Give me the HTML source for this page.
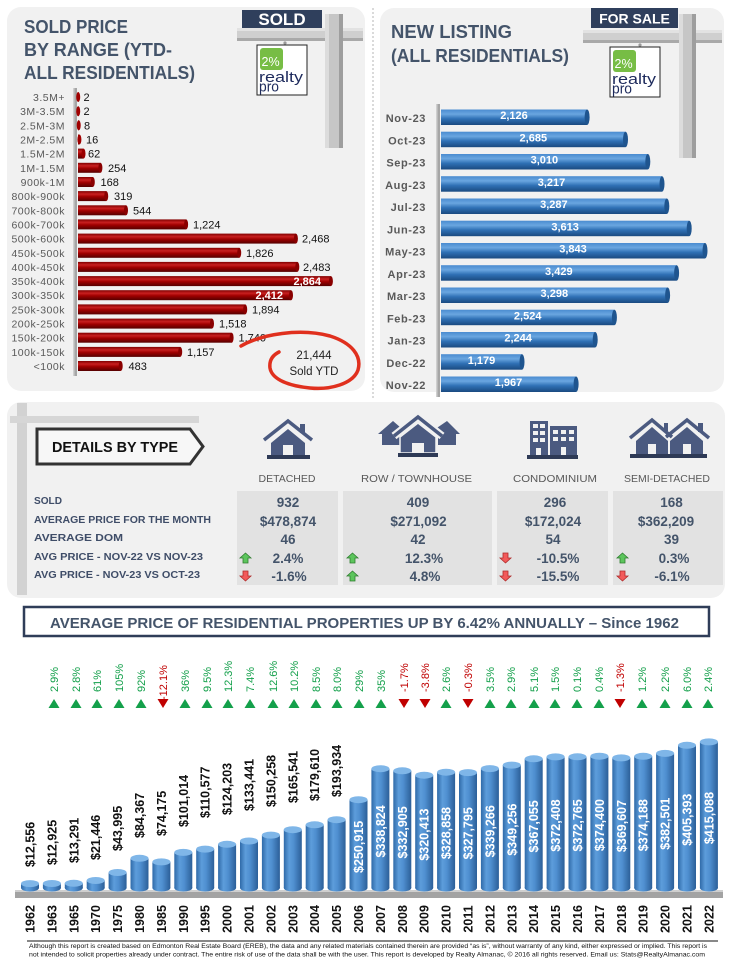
<!DOCTYPE html>
<html><head><meta charset="utf-8"><style>
html,body{margin:0;padding:0;background:#fff;}
svg{display:block;}
text{font-family:"Liberation Sans",Arial,sans-serif;}
.cat{font-size:10.5px;fill:#595959;text-anchor:end;letter-spacing:0.5px}
.rv{font-size:11px;fill:#111}
.rw{font-size:11px;fill:#fff;font-weight:bold;text-anchor:end}
.mo{font-size:11px;fill:#595959;font-weight:bold;text-anchor:end;letter-spacing:0.6px}
.bv{font-size:11px;fill:#fff;font-weight:bold;text-anchor:middle}
.rl{font-size:10.5px;fill:#3f4d68;font-weight:bold}
.ch{font-size:10.5px;fill:#595959;text-anchor:middle}
.dv{font-size:13.5px;fill:#44546a;font-weight:bold;text-anchor:middle}
.yl{font-size:12.5px;font-weight:bold;fill:#111;text-anchor:middle}
.vb{font-size:12.5px;font-weight:bold;fill:#111}
.vw{font-size:12.5px;font-weight:bold;fill:#fff;text-anchor:middle}
.pg{font-size:11px;fill:#14a04b}
.pr{font-size:11px;fill:#c00000}
.ic{fill:#4b5a80}
.icb{fill:#2e3a56}
.hole{fill:#f1f1f1}
</style></head><body>
<svg width="737" height="960" viewBox="0 0 737 960" xmlns="http://www.w3.org/2000/svg">
<defs>
<linearGradient id="rg" x1="0" y1="0" x2="0" y2="1">
<stop offset="0" stop-color="#800000"/><stop offset="0.3" stop-color="#c82020"/><stop offset="0.55" stop-color="#a00000"/><stop offset="1" stop-color="#550000"/>
</linearGradient>
<linearGradient id="bg" x1="0" y1="0" x2="0" y2="1">
<stop offset="0" stop-color="#4a8bd0"/><stop offset="0.3" stop-color="#6aa6e0"/><stop offset="0.6" stop-color="#2f70b5"/><stop offset="1" stop-color="#1a4a80"/>
</linearGradient>
<linearGradient id="cy" x1="0" y1="0" x2="1" y2="0">
<stop offset="0" stop-color="#2f6aa8"/><stop offset="0.3" stop-color="#5d9ddb"/><stop offset="0.55" stop-color="#4f8fd0"/><stop offset="1" stop-color="#2c5f98"/>
</linearGradient>
<g id="logo">
<rect x="0" y="0" width="50" height="50" fill="#fff" stroke="#222" stroke-width="1"/>
<rect x="3" y="3" width="23" height="22" rx="3" fill="#77bd45"/>
<text x="4.5" y="21" font-size="12.5" fill="#fff">2%</text>
<text x="2" y="37" font-size="15" fill="#1d2a5c" textLength="44" lengthAdjust="spacingAndGlyphs">realty</text>
<text x="2" y="46.5" font-size="15" fill="#1d2a5c" textLength="20" lengthAdjust="spacingAndGlyphs">pro</text>
</g>
</defs>

<!-- panels -->
<rect x="7" y="7" width="358" height="384" rx="14" fill="#f1f1f1"/>
<rect x="380" y="8" width="344" height="384" rx="14" fill="#f1f1f1"/>
<line x1="373" y1="8" x2="373" y2="398" stroke="#b5b5b5" stroke-dasharray="2,2"/>
<rect x="7" y="402" width="718" height="196" rx="14" fill="#f1f1f1"/>

<!-- LEFT sign -->
<rect x="237" y="28" width="126" height="13" fill="#cfcfcf"/>
<rect x="237" y="28" width="126" height="3" fill="#e2e2e2"/>
<rect x="237" y="38" width="126" height="3" fill="#a9a9a9"/>
<rect x="325" y="14" width="18" height="134" fill="#c6c6c6"/>
<rect x="325" y="14" width="4" height="134" fill="#dcdcdc"/>
<rect x="339" y="14" width="4" height="134" fill="#9e9e9e"/>
<rect x="242" y="10" width="80" height="18" fill="#2f3f5c"/>
<text x="282" y="25" font-size="17" font-weight="bold" fill="#fff" text-anchor="middle">SOLD</text>
<circle cx="285" cy="43" r="1.6" fill="#999"/>
<use href="#logo" x="257" y="45"/>

<text x="24" y="33" font-size="18" font-weight="bold" fill="#44546a" textLength="104" lengthAdjust="spacingAndGlyphs">SOLD PRICE</text>
<text x="24" y="56" font-size="18" font-weight="bold" fill="#44546a" textLength="148" lengthAdjust="spacingAndGlyphs">BY RANGE (YTD-</text>
<text x="24" y="79" font-size="18" font-weight="bold" fill="#44546a" textLength="171" lengthAdjust="spacingAndGlyphs">ALL RESIDENTIALS)</text>

<!-- left axis -->
<rect x="73" y="88" width="4" height="288" fill="#a6a6a6"/>
<rect x="73" y="88" width="1.5" height="288" fill="#cfcfcf"/>

<!-- red bars -->
<g>
<rect x="78" y="92" width="0.2" height="10" fill="url(#rg)"/><ellipse cx="78.2" cy="97" rx="2" ry="5" fill="#a00000"/>
<rect x="78" y="106.2" width="0.2" height="10" fill="url(#rg)"/><ellipse cx="78.2" cy="111.2" rx="2" ry="5" fill="#a00000"/>
<rect x="78" y="120.3" width="0.7" height="10" fill="url(#rg)"/><ellipse cx="78.7" cy="125.3" rx="2" ry="5" fill="#a00000"/>
<rect x="78" y="134.5" width="1.4" height="10" fill="url(#rg)"/><ellipse cx="79.4" cy="139.5" rx="2" ry="5" fill="#a00000"/>
<rect x="78" y="148.6" width="5.5" height="10" fill="url(#rg)"/><ellipse cx="83.5" cy="153.6" rx="2" ry="5" fill="#9a0000"/>
<rect x="78" y="162.8" width="22.4" height="10" fill="url(#rg)"/><ellipse cx="100.4" cy="167.8" rx="2" ry="5" fill="#8a0000"/>
<rect x="78" y="177" width="14.8" height="10" fill="url(#rg)"/><ellipse cx="92.8" cy="182" rx="2" ry="5" fill="#8a0000"/>
<rect x="78" y="191.1" width="28.2" height="10" fill="url(#rg)"/><ellipse cx="106.2" cy="196.1" rx="2" ry="5" fill="#8a0000"/>
<rect x="78" y="205.3" width="48" height="10" fill="url(#rg)"/><ellipse cx="126" cy="210.3" rx="2" ry="5" fill="#8a0000"/>
<rect x="78" y="219.4" width="108.1" height="10" fill="url(#rg)"/><ellipse cx="186.1" cy="224.4" rx="2" ry="5" fill="#8a0000"/>
<rect x="78" y="233.6" width="217.9" height="10" fill="url(#rg)"/><ellipse cx="295.9" cy="238.6" rx="2" ry="5" fill="#8a0000"/>
<rect x="78" y="247.8" width="161.2" height="10" fill="url(#rg)"/><ellipse cx="239.2" cy="252.8" rx="2" ry="5" fill="#8a0000"/>
<rect x="78" y="261.9" width="219.3" height="10" fill="url(#rg)"/><ellipse cx="297.3" cy="266.9" rx="2" ry="5" fill="#8a0000"/>
<rect x="78" y="276.1" width="252.9" height="10" fill="url(#rg)"/><ellipse cx="330.9" cy="281.1" rx="2" ry="5" fill="#8a0000"/>
<rect x="78" y="290.2" width="213" height="10" fill="url(#rg)"/><ellipse cx="291" cy="295.2" rx="2" ry="5" fill="#8a0000"/>
<rect x="78" y="304.4" width="167.2" height="10" fill="url(#rg)"/><ellipse cx="245.2" cy="309.4" rx="2" ry="5" fill="#8a0000"/>
<rect x="78" y="318.6" width="134" height="10" fill="url(#rg)"/><ellipse cx="212" cy="323.6" rx="2" ry="5" fill="#8a0000"/>
<rect x="78" y="332.7" width="153.6" height="10" fill="url(#rg)"/><ellipse cx="231.6" cy="337.7" rx="2" ry="5" fill="#8a0000"/>
<rect x="78" y="346.9" width="102.2" height="10" fill="url(#rg)"/><ellipse cx="180.2" cy="351.9" rx="2" ry="5" fill="#8a0000"/>
<rect x="78" y="361" width="42.7" height="10" fill="url(#rg)"/><ellipse cx="120.7" cy="366" rx="2" ry="5" fill="#8a0000"/>
</g>
<g>
<text class="cat" x="65" y="101">3.5M+</text>
<text class="cat" x="65" y="115.2">3M-3.5M</text>
<text class="cat" x="65" y="129.3">2.5M-3M</text>
<text class="cat" x="65" y="143.5">2M-2.5M</text>
<text class="cat" x="65" y="157.6">1.5M-2M</text>
<text class="cat" x="65" y="171.8">1M-1.5M</text>
<text class="cat" x="65" y="186">900k-1M</text>
<text class="cat" x="65" y="200.1">800k-900k</text>
<text class="cat" x="65" y="214.3">700k-800k</text>
<text class="cat" x="65" y="228.4">600k-700k</text>
<text class="cat" x="65" y="242.6">500k-600k</text>
<text class="cat" x="65" y="256.8">450k-500k</text>
<text class="cat" x="65" y="270.9">400k-450k</text>
<text class="cat" x="65" y="285.1">350k-400k</text>
<text class="cat" x="65" y="299.2">300k-350k</text>
<text class="cat" x="65" y="313.4">250k-300k</text>
<text class="cat" x="65" y="327.6">200k-250k</text>
<text class="cat" x="65" y="341.7">150k-200k</text>
<text class="cat" x="65" y="355.9">100k-150k</text>
<text class="cat" x="65" y="370">&lt;100k</text>
</g>
<g>
<text class="rv" x="83.5" y="101">2</text>
<text class="rv" x="83.5" y="115.2">2</text>
<text class="rv" x="84" y="129.3">8</text>
<text class="rv" x="86" y="143.5">16</text>
<text class="rv" x="88" y="157.6">62</text>
<text class="rv" x="108" y="171.8">254</text>
<text class="rv" x="100.5" y="186">168</text>
<text class="rv" x="114" y="200.1">319</text>
<text class="rv" x="133" y="214.3">544</text>
<text class="rv" x="193" y="228.4">1,224</text>
<text class="rv" x="302" y="242.6">2,468</text>
<text class="rv" x="246" y="256.8">1,826</text>
<text class="rv" x="303" y="270.9">2,483</text>
<text class="rw" x="321" y="285.1">2,864</text>
<text class="rw" x="283" y="299.2">2,412</text>
<text class="rv" x="252" y="313.4">1,894</text>
<text class="rv" x="219" y="327.6">1,518</text>
<text class="rv" x="238.5" y="341.7">1,740</text>
<text class="rv" x="187" y="355.9">1,157</text>
<text class="rv" x="128.5" y="370">483</text>
</g>
<path d="M241,346 C262,334 300,328 330,336 C352,343 362,356 358,370 C353,384 330,390 310,388 C290,386 272,380 270,368 C269,360 273,355 279,352" fill="none" stroke="#e0301e" stroke-width="3.5" stroke-linecap="round"/>
<text x="314" y="359" font-size="11.5" fill="#222" text-anchor="middle">21,444</text>
<text x="314" y="375" font-size="11.5" fill="#222" text-anchor="middle">Sold YTD</text>

<!-- RIGHT sign -->
<rect x="583" y="30" width="139" height="13" fill="#cfcfcf"/>
<rect x="583" y="30" width="139" height="3" fill="#e2e2e2"/>
<rect x="583" y="40" width="139" height="3" fill="#a9a9a9"/>
<rect x="679" y="14" width="17" height="144" fill="#c6c6c6"/>
<rect x="679" y="14" width="4" height="144" fill="#dcdcdc"/>
<rect x="692" y="14" width="4" height="144" fill="#9e9e9e"/>
<rect x="591" y="8" width="87" height="20" fill="#2f3f5c"/>
<text x="634.5" y="23.5" font-size="14" font-weight="bold" fill="#fff" text-anchor="middle">FOR SALE</text>
<circle cx="640" cy="45" r="1.6" fill="#999"/>
<use href="#logo" x="610" y="47"/>

<text x="391" y="38" font-size="18" font-weight="bold" fill="#44546a" textLength="121" lengthAdjust="spacingAndGlyphs">NEW LISTING</text>
<text x="391" y="62" font-size="18" font-weight="bold" fill="#44546a" textLength="178" lengthAdjust="spacingAndGlyphs">(ALL RESIDENTIALS)</text>

<rect x="436" y="104" width="4" height="293" fill="#a6a6a6"/>
<rect x="436" y="104" width="1.5" height="293" fill="#cfcfcf"/>
<g>
<rect x="441" y="109.5" width="146.1" height="15.5" fill="url(#bg)"/><ellipse cx="587.1" cy="117.2" rx="2.5" ry="7.7" fill="#1f558f"/>
<rect x="441" y="131.7" width="184.5" height="15.5" fill="url(#bg)"/><ellipse cx="625.5" cy="139.45" rx="2.5" ry="7.7" fill="#1f558f"/>
<rect x="441" y="154" width="206.8" height="15.5" fill="url(#bg)"/><ellipse cx="647.8" cy="161.7" rx="2.5" ry="7.7" fill="#1f558f"/>
<rect x="441" y="176.2" width="221" height="15.5" fill="url(#bg)"/><ellipse cx="662" cy="183.95" rx="2.5" ry="7.7" fill="#1f558f"/>
<rect x="441" y="198.5" width="225.8" height="15.5" fill="url(#bg)"/><ellipse cx="666.8" cy="206.2" rx="2.5" ry="7.7" fill="#1f558f"/>
<rect x="441" y="220.7" width="248.2" height="15.5" fill="url(#bg)"/><ellipse cx="689.2" cy="228.45" rx="2.5" ry="7.7" fill="#1f558f"/>
<rect x="441" y="243" width="264" height="15.5" fill="url(#bg)"/><ellipse cx="705" cy="250.7" rx="2.5" ry="7.7" fill="#1f558f"/>
<rect x="441" y="265.2" width="235.6" height="15.5" fill="url(#bg)"/><ellipse cx="676.6" cy="272.95" rx="2.5" ry="7.7" fill="#1f558f"/>
<rect x="441" y="287.5" width="226.6" height="15.5" fill="url(#bg)"/><ellipse cx="667.6" cy="295.2" rx="2.5" ry="7.7" fill="#1f558f"/>
<rect x="441" y="309.7" width="173.4" height="15.5" fill="url(#bg)"/><ellipse cx="614.4" cy="317.45" rx="2.5" ry="7.7" fill="#1f558f"/>
<rect x="441" y="332" width="154.2" height="15.5" fill="url(#bg)"/><ellipse cx="595.2" cy="339.7" rx="2.5" ry="7.7" fill="#1f558f"/>
<rect x="441" y="354.2" width="81" height="15.5" fill="url(#bg)"/><ellipse cx="522" cy="361.95" rx="2.5" ry="7.7" fill="#1f558f"/>
<rect x="441" y="376.5" width="135.1" height="15.5" fill="url(#bg)"/><ellipse cx="576.1" cy="384.2" rx="2.5" ry="7.7" fill="#1f558f"/>
</g>
<g>
<text class="mo" x="426" y="122">Nov-23</text>
<text class="mo" x="426" y="144.3">Oct-23</text>
<text class="mo" x="426" y="166.5">Sep-23</text>
<text class="mo" x="426" y="188.8">Aug-23</text>
<text class="mo" x="426" y="211">Jul-23</text>
<text class="mo" x="426" y="233.3">Jun-23</text>
<text class="mo" x="426" y="255.5">May-23</text>
<text class="mo" x="426" y="277.8">Apr-23</text>
<text class="mo" x="426" y="300">Mar-23</text>
<text class="mo" x="426" y="322.3">Feb-23</text>
<text class="mo" x="426" y="344.5">Jan-23</text>
<text class="mo" x="426" y="366.8">Dec-22</text>
<text class="mo" x="426" y="389">Nov-22</text>
</g>
<g>
<text class="bv" x="514" y="119">2,126</text>
<text class="bv" x="533.3" y="141.3">2,685</text>
<text class="bv" x="544.4" y="163.5">3,010</text>
<text class="bv" x="551.5" y="185.8">3,217</text>
<text class="bv" x="553.9" y="208">3,287</text>
<text class="bv" x="565.1" y="230.3">3,613</text>
<text class="bv" x="573" y="252.5">3,843</text>
<text class="bv" x="558.8" y="274.8">3,429</text>
<text class="bv" x="554.3" y="297">3,298</text>
<text class="bv" x="527.7" y="319.3">2,524</text>
<text class="bv" x="518.1" y="341.5">2,244</text>
<text class="bv" x="481.5" y="363.8">1,179</text>
<text class="bv" x="508.5" y="386">1,967</text>
</g>

<!-- DETAILS -->
<rect x="17" y="403" width="10" height="192" fill="#d2d2d2"/>
<rect x="10" y="416" width="189" height="7" fill="#d6d6d6"/>
<polygon points="37,429 190,429 203,446.5 190,464 37,464" fill="#f7f7f7" stroke="#333" stroke-width="3"/>
<text x="52" y="452" font-size="14.5" font-weight="bold" fill="#111" textLength="126" lengthAdjust="spacingAndGlyphs">DETAILS BY TYPE</text>

<!-- icons -->
<g>
<polyline points="264,440 288,421 312,440" fill="none" stroke="#4b5a80" stroke-width="3.5"/>
<rect class="ic" x="300" y="424" width="5" height="9"/>
<polygon class="ic" points="271,443 288,429 305,443 305,455 271,455"/>
<rect class="hole" x="283" y="445" width="10" height="10"/>
<rect class="icb" x="267" y="455" width="43" height="4"/>
</g>
<g>
<polygon class="ic" points="378,434 393,421 408,434 404,434 404,445 382,445 382,434"/>
<polygon class="ic" points="428,434 447,421 460,434 456,434 456,445 438,445 438,434"/>
<polyline points="394,436 418,417 442,436" fill="none" stroke="#f1f1f1" stroke-width="8"/>
<polyline points="394,436 418,417 442,436" fill="none" stroke="#4b5a80" stroke-width="3.5"/>
<polygon class="ic" points="400,437 418,423 436,437 436,453 400,453" stroke="#f1f1f1" stroke-width="1.5"/>
<rect class="hole" x="412" y="443" width="12" height="10"/>
<rect class="icb" x="398" y="453" width="40" height="4"/>
</g>
<g>
<rect class="ic" x="530" y="421" width="18" height="34"/>
<rect class="hole" x="533" y="424" width="5" height="4"/><rect class="hole" x="540" y="424" width="5" height="4"/>
<rect class="hole" x="533" y="431" width="5" height="4"/><rect class="hole" x="540" y="431" width="5" height="4"/>
<rect class="hole" x="533" y="438" width="5" height="4"/><rect class="hole" x="540" y="438" width="5" height="4"/>
<rect class="hole" x="536" y="448" width="5" height="7"/>
<rect class="ic" x="550" y="426" width="27" height="29"/>
<rect class="hole" x="553" y="430" width="5" height="4"/><rect class="hole" x="561" y="430" width="5" height="4"/><rect class="hole" x="569" y="430" width="5" height="4"/>
<rect class="hole" x="553" y="437" width="5" height="4"/><rect class="hole" x="561" y="437" width="5" height="4"/><rect class="hole" x="569" y="437" width="5" height="4"/>
<rect class="hole" x="561" y="447" width="5" height="8"/>
<rect class="icb" x="527" y="455" width="51" height="4"/>
</g>
<g>
<polyline points="630,438 652,420 672,437" fill="none" stroke="#4b5a80" stroke-width="3.5"/>
<polyline points="666,437 687,420 709,438" fill="none" stroke="#4b5a80" stroke-width="3.5"/>
<rect class="ic" x="664" y="423" width="4" height="8"/>
<rect class="ic" x="698" y="423" width="5" height="9"/>
<polygon class="ic" points="636,441 652,427 668,441 668,454 636,454"/>
<polygon class="ic" points="670,441 687,427 703,441 703,454 670,454"/>
<rect class="hole" x="648" y="444" width="8" height="10"/>
<rect class="hole" x="683" y="444" width="8" height="10"/>
<rect class="icb" x="630" y="454" width="77" height="4"/>
</g>

<text class="ch" x="287" y="482">DETACHED</text>
<text class="ch" x="416.5" y="482" textLength="111" lengthAdjust="spacingAndGlyphs">ROW / TOWNHOUSE</text>
<text class="ch" x="555" y="482" textLength="84" lengthAdjust="spacingAndGlyphs">CONDOMINIUM</text>
<text class="ch" x="667" y="482" textLength="86" lengthAdjust="spacingAndGlyphs">SEMI-DETACHED</text>

<rect x="237" y="491" width="101" height="94" fill="#e2e2e2"/>
<rect x="343" y="491" width="149" height="94" fill="#e2e2e2"/>
<rect x="497" y="491" width="111" height="94" fill="#e2e2e2"/>
<rect x="613" y="491" width="110" height="94" fill="#e2e2e2"/>

<text class="rl" x="34" y="504" textLength="28" lengthAdjust="spacingAndGlyphs">SOLD</text>
<text class="rl" x="34" y="523" textLength="177" lengthAdjust="spacingAndGlyphs">AVERAGE PRICE FOR THE MONTH</text>
<text class="rl" x="34" y="541" textLength="89" lengthAdjust="spacingAndGlyphs">AVERAGE DOM</text>
<text class="rl" x="34" y="560" textLength="169" lengthAdjust="spacingAndGlyphs">AVG PRICE - NOV-22 VS NOV-23</text>
<text class="rl" x="34" y="578" textLength="166" lengthAdjust="spacingAndGlyphs">AVG PRICE - NOV-23 VS OCT-23</text>

<text class="dv" x="288" y="507">932</text>
<text class="dv" x="288" y="526">$478,874</text>
<text class="dv" x="288" y="544">46</text>
<text class="dv" x="288" y="563">2.4%</text>
<text class="dv" x="289" y="581">-1.6%</text>

<text class="dv" x="418" y="507">409</text>
<text class="dv" x="418.5" y="526">$271,092</text>
<text class="dv" x="418" y="544">42</text>
<text class="dv" x="424" y="563">12.3%</text>
<text class="dv" x="425" y="581">4.8%</text>

<text class="dv" x="555" y="507">296</text>
<text class="dv" x="553" y="526">$172,024</text>
<text class="dv" x="553" y="544">54</text>
<text class="dv" x="558" y="563">-10.5%</text>
<text class="dv" x="558" y="581">-15.5%</text>

<text class="dv" x="671.5" y="507">168</text>
<text class="dv" x="666" y="526">$362,209</text>
<text class="dv" x="671.5" y="544">39</text>
<text class="dv" x="674" y="563">0.3%</text>
<text class="dv" x="672" y="581">-6.1%</text>

<!-- arrows -->
<g stroke-width="0.8">
<polygon points="245.5,553 251,558 248,558 248,563 243,563 243,558 240,558" fill="#5cc55c" stroke="#2f7d2f"/>
<polygon points="245.5,581 251,576 248,576 248,571 243,571 243,576 240,576" fill="#f25a5a" stroke="#b02a2a"/>
<polygon points="352.5,553 358,558 355,558 355,563 350,563 350,558 347,558" fill="#5cc55c" stroke="#2f7d2f"/>
<polygon points="352.5,571 358,576 355,576 355,581 350,581 350,576 347,576" fill="#5cc55c" stroke="#2f7d2f"/>
<polygon points="505.5,563 511,558 508,558 508,553 503,553 503,558 500,558" fill="#f25a5a" stroke="#b02a2a"/>
<polygon points="505.5,581 511,576 508,576 508,571 503,571 503,576 500,576" fill="#f25a5a" stroke="#b02a2a"/>
<polygon points="622.5,553 628,558 625,558 625,563 620,563 620,558 617,558" fill="#5cc55c" stroke="#2f7d2f"/>
<polygon points="622.5,581 628,576 625,576 625,571 620,571 620,576 617,576" fill="#f25a5a" stroke="#b02a2a"/>
</g>

<!-- BOTTOM title -->
<rect x="24" y="607" width="685" height="29" fill="#fff" stroke="#2f3d58" stroke-width="2.5"/>
<text x="50" y="628" font-size="15" font-weight="bold" fill="#44546a" textLength="629" lengthAdjust="spacingAndGlyphs">AVERAGE PRICE OF RESIDENTIAL PROPERTIES UP BY 6.42% ANNUALLY – Since 1962</text>

<!-- percent labels -->
<g>
<text class="pg" transform="translate(58,692) rotate(-90)">2.9%</text>
<text class="pg" transform="translate(80,692) rotate(-90)">2.8%</text>
<text class="pg" transform="translate(101,692) rotate(-90)">61%</text>
<text class="pg" transform="translate(123,692) rotate(-90)">105%</text>
<text class="pg" transform="translate(145,692) rotate(-90)">92%</text>
<text class="pr" transform="translate(167,700) rotate(-90)">-12.1%</text>
<text class="pg" transform="translate(189,692) rotate(-90)">36%</text>
<text class="pg" transform="translate(211,692) rotate(-90)">9.5%</text>
<text class="pg" transform="translate(232,692) rotate(-90)">12.3%</text>
<text class="pg" transform="translate(254,692) rotate(-90)">7.4%</text>
<text class="pg" transform="translate(277,692) rotate(-90)">12.6%</text>
<text class="pg" transform="translate(298,692) rotate(-90)">10.2%</text>
<text class="pg" transform="translate(320,692) rotate(-90)">8.5%</text>
<text class="pg" transform="translate(341,692) rotate(-90)">8.0%</text>
<text class="pg" transform="translate(363,692) rotate(-90)">29%</text>
<text class="pg" transform="translate(385,692) rotate(-90)">35%</text>
<text class="pr" transform="translate(408,692) rotate(-90)">-1.7%</text>
<text class="pr" transform="translate(429,692) rotate(-90)">-3.8%</text>
<text class="pg" transform="translate(450,692) rotate(-90)">2.6%</text>
<text class="pr" transform="translate(472,692) rotate(-90)">-0.3%</text>
<text class="pg" transform="translate(494,692) rotate(-90)">3.5%</text>
<text class="pg" transform="translate(515,692) rotate(-90)">2.9%</text>
<text class="pg" transform="translate(538,692) rotate(-90)">5.1%</text>
<text class="pg" transform="translate(559,692) rotate(-90)">1.5%</text>
<text class="pg" transform="translate(581,692) rotate(-90)">0.1%</text>
<text class="pg" transform="translate(603,692) rotate(-90)">0.4%</text>
<text class="pr" transform="translate(624,692) rotate(-90)">-1.3%</text>
<text class="pg" transform="translate(646,692) rotate(-90)">1.2%</text>
<text class="pg" transform="translate(669,692) rotate(-90)">2.2%</text>
<text class="pg" transform="translate(691,692) rotate(-90)">6.0%</text>
<text class="pg" transform="translate(712,692) rotate(-90)">2.4%</text>
</g>
<g>
<polygon points="48.5,708 59.5,708 54,699" fill="#14a04b"/>
<polygon points="70.5,708 81.5,708 76,699" fill="#14a04b"/>
<polygon points="91.5,708 102.5,708 97,699" fill="#14a04b"/>
<polygon points="113.5,708 124.5,708 119,699" fill="#14a04b"/>
<polygon points="135.5,708 146.5,708 141,699" fill="#14a04b"/>
<polygon points="157.5,699 168.5,699 163,708" fill="#c00000"/>
<polygon points="179.5,708 190.5,708 185,699" fill="#14a04b"/>
<polygon points="201.5,708 212.5,708 207,699" fill="#14a04b"/>
<polygon points="222.5,708 233.5,708 228,699" fill="#14a04b"/>
<polygon points="244.5,708 255.5,708 250,699" fill="#14a04b"/>
<polygon points="267.5,708 278.5,708 273,699" fill="#14a04b"/>
<polygon points="288.5,708 299.5,708 294,699" fill="#14a04b"/>
<polygon points="310.5,708 321.5,708 316,699" fill="#14a04b"/>
<polygon points="331.5,708 342.5,708 337,699" fill="#14a04b"/>
<polygon points="353.5,708 364.5,708 359,699" fill="#14a04b"/>
<polygon points="375.5,708 386.5,708 381,699" fill="#14a04b"/>
<polygon points="398.5,699 409.5,699 404,708" fill="#c00000"/>
<polygon points="419.5,699 430.5,699 425,708" fill="#c00000"/>
<polygon points="440.5,708 451.5,708 446,699" fill="#14a04b"/>
<polygon points="462.5,699 473.5,699 468,708" fill="#c00000"/>
<polygon points="484.5,708 495.5,708 490,699" fill="#14a04b"/>
<polygon points="505.5,708 516.5,708 511,699" fill="#14a04b"/>
<polygon points="528.5,708 539.5,708 534,699" fill="#14a04b"/>
<polygon points="549.5,708 560.5,708 555,699" fill="#14a04b"/>
<polygon points="571.5,708 582.5,708 577,699" fill="#14a04b"/>
<polygon points="593.5,708 604.5,708 599,699" fill="#14a04b"/>
<polygon points="614.5,699 625.5,699 620,708" fill="#c00000"/>
<polygon points="636.5,708 647.5,708 642,699" fill="#14a04b"/>
<polygon points="659.5,708 670.5,708 665,699" fill="#14a04b"/>
<polygon points="681.5,708 692.5,708 687,699" fill="#14a04b"/>
<polygon points="702.5,708 713.5,708 708,699" fill="#14a04b"/>
</g>

<!-- floor -->
<rect x="15" y="891" width="708" height="7" fill="#a3a3a3"/>
<rect x="15" y="890" width="708" height="2" fill="#cfcfcf"/>

<!-- cylinders -->
<g>
<rect x="21" y="883.6" width="18" height="4.4" fill="url(#cy)"/><ellipse cx="30" cy="888" rx="9" ry="3.5" fill="url(#cy)"/><ellipse cx="30" cy="883.6" rx="9" ry="3.5" fill="#7fb6e8"/>
<rect x="42.9" y="883.5" width="18" height="4.5" fill="url(#cy)"/><ellipse cx="51.9" cy="888" rx="9" ry="3.5" fill="url(#cy)"/><ellipse cx="51.9" cy="883.5" rx="9" ry="3.5" fill="#7fb6e8"/>
<rect x="64.8" y="883.3" width="18" height="4.7" fill="url(#cy)"/><ellipse cx="73.8" cy="888" rx="9" ry="3.5" fill="url(#cy)"/><ellipse cx="73.8" cy="883.3" rx="9" ry="3.5" fill="#7fb6e8"/>
<rect x="86.7" y="880.5" width="18" height="7.5" fill="url(#cy)"/><ellipse cx="95.7" cy="888" rx="9" ry="3.5" fill="url(#cy)"/><ellipse cx="95.7" cy="880.5" rx="9" ry="3.5" fill="#7fb6e8"/>
<rect x="108.6" y="872.5" width="18" height="15.5" fill="url(#cy)"/><ellipse cx="117.6" cy="888" rx="9" ry="3.5" fill="url(#cy)"/><ellipse cx="117.6" cy="872.5" rx="9" ry="3.5" fill="#7fb6e8"/>
<rect x="130.5" y="858.3" width="18" height="29.7" fill="url(#cy)"/><ellipse cx="139.5" cy="888" rx="9" ry="3.5" fill="url(#cy)"/><ellipse cx="139.5" cy="858.3" rx="9" ry="3.5" fill="#7fb6e8"/>
<rect x="152.4" y="861.9" width="18" height="26.1" fill="url(#cy)"/><ellipse cx="161.4" cy="888" rx="9" ry="3.5" fill="url(#cy)"/><ellipse cx="161.4" cy="861.9" rx="9" ry="3.5" fill="#7fb6e8"/>
<rect x="174.3" y="852.4" width="18" height="35.6" fill="url(#cy)"/><ellipse cx="183.3" cy="888" rx="9" ry="3.5" fill="url(#cy)"/><ellipse cx="183.3" cy="852.4" rx="9" ry="3.5" fill="#7fb6e8"/>
<rect x="196.2" y="849.1" width="18" height="38.9" fill="url(#cy)"/><ellipse cx="205.2" cy="888" rx="9" ry="3.5" fill="url(#cy)"/><ellipse cx="205.2" cy="849.1" rx="9" ry="3.5" fill="#7fb6e8"/>
<rect x="218.1" y="844.3" width="18" height="43.7" fill="url(#cy)"/><ellipse cx="227.1" cy="888" rx="9" ry="3.5" fill="url(#cy)"/><ellipse cx="227.1" cy="844.3" rx="9" ry="3.5" fill="#7fb6e8"/>
<rect x="240" y="841" width="18" height="47" fill="url(#cy)"/><ellipse cx="249" cy="888" rx="9" ry="3.5" fill="url(#cy)"/><ellipse cx="249" cy="841" rx="9" ry="3.5" fill="#7fb6e8"/>
<rect x="261.9" y="835.1" width="18" height="52.9" fill="url(#cy)"/><ellipse cx="270.9" cy="888" rx="9" ry="3.5" fill="url(#cy)"/><ellipse cx="270.9" cy="835.1" rx="9" ry="3.5" fill="#7fb6e8"/>
<rect x="283.8" y="829.7" width="18" height="58.3" fill="url(#cy)"/><ellipse cx="292.8" cy="888" rx="9" ry="3.5" fill="url(#cy)"/><ellipse cx="292.8" cy="829.7" rx="9" ry="3.5" fill="#7fb6e8"/>
<rect x="305.7" y="824.8" width="18" height="63.2" fill="url(#cy)"/><ellipse cx="314.7" cy="888" rx="9" ry="3.5" fill="url(#cy)"/><ellipse cx="314.7" cy="824.8" rx="9" ry="3.5" fill="#7fb6e8"/>
<rect x="327.6" y="819.7" width="18" height="68.3" fill="url(#cy)"/><ellipse cx="336.6" cy="888" rx="9" ry="3.5" fill="url(#cy)"/><ellipse cx="336.6" cy="819.7" rx="9" ry="3.5" fill="#7fb6e8"/>
<rect x="349.5" y="799.7" width="18" height="88.3" fill="url(#cy)"/><ellipse cx="358.5" cy="888" rx="9" ry="3.5" fill="url(#cy)"/><ellipse cx="358.5" cy="799.7" rx="9" ry="3.5" fill="#7fb6e8"/>
<rect x="371.4" y="768.7" width="18" height="119.3" fill="url(#cy)"/><ellipse cx="380.4" cy="888" rx="9" ry="3.5" fill="url(#cy)"/><ellipse cx="380.4" cy="768.7" rx="9" ry="3.5" fill="#7fb6e8"/>
<rect x="393.3" y="770.8" width="18" height="117.2" fill="url(#cy)"/><ellipse cx="402.3" cy="888" rx="9" ry="3.5" fill="url(#cy)"/><ellipse cx="402.3" cy="770.8" rx="9" ry="3.5" fill="#7fb6e8"/>
<rect x="415.2" y="775.2" width="18" height="112.8" fill="url(#cy)"/><ellipse cx="424.2" cy="888" rx="9" ry="3.5" fill="url(#cy)"/><ellipse cx="424.2" cy="775.2" rx="9" ry="3.5" fill="#7fb6e8"/>
<rect x="437.1" y="772.2" width="18" height="115.8" fill="url(#cy)"/><ellipse cx="446.1" cy="888" rx="9" ry="3.5" fill="url(#cy)"/><ellipse cx="446.1" cy="772.2" rx="9" ry="3.5" fill="#7fb6e8"/>
<rect x="459" y="772.6" width="18" height="115.4" fill="url(#cy)"/><ellipse cx="468" cy="888" rx="9" ry="3.5" fill="url(#cy)"/><ellipse cx="468" cy="772.6" rx="9" ry="3.5" fill="#7fb6e8"/>
<rect x="480.9" y="768.6" width="18" height="119.4" fill="url(#cy)"/><ellipse cx="489.9" cy="888" rx="9" ry="3.5" fill="url(#cy)"/><ellipse cx="489.9" cy="768.6" rx="9" ry="3.5" fill="#7fb6e8"/>
<rect x="502.8" y="765.1" width="18" height="122.9" fill="url(#cy)"/><ellipse cx="511.8" cy="888" rx="9" ry="3.5" fill="url(#cy)"/><ellipse cx="511.8" cy="765.1" rx="9" ry="3.5" fill="#7fb6e8"/>
<rect x="524.7" y="758.8" width="18" height="129.2" fill="url(#cy)"/><ellipse cx="533.7" cy="888" rx="9" ry="3.5" fill="url(#cy)"/><ellipse cx="533.7" cy="758.8" rx="9" ry="3.5" fill="#7fb6e8"/>
<rect x="546.6" y="756.9" width="18" height="131.1" fill="url(#cy)"/><ellipse cx="555.6" cy="888" rx="9" ry="3.5" fill="url(#cy)"/><ellipse cx="555.6" cy="756.9" rx="9" ry="3.5" fill="#7fb6e8"/>
<rect x="568.5" y="756.8" width="18" height="131.2" fill="url(#cy)"/><ellipse cx="577.5" cy="888" rx="9" ry="3.5" fill="url(#cy)"/><ellipse cx="577.5" cy="756.8" rx="9" ry="3.5" fill="#7fb6e8"/>
<rect x="590.4" y="756.2" width="18" height="131.8" fill="url(#cy)"/><ellipse cx="599.4" cy="888" rx="9" ry="3.5" fill="url(#cy)"/><ellipse cx="599.4" cy="756.2" rx="9" ry="3.5" fill="#7fb6e8"/>
<rect x="612.3" y="757.9" width="18" height="130.1" fill="url(#cy)"/><ellipse cx="621.3" cy="888" rx="9" ry="3.5" fill="url(#cy)"/><ellipse cx="621.3" cy="757.9" rx="9" ry="3.5" fill="#7fb6e8"/>
<rect x="634.2" y="756.3" width="18" height="131.7" fill="url(#cy)"/><ellipse cx="643.2" cy="888" rx="9" ry="3.5" fill="url(#cy)"/><ellipse cx="643.2" cy="756.3" rx="9" ry="3.5" fill="#7fb6e8"/>
<rect x="656.1" y="753.4" width="18" height="134.6" fill="url(#cy)"/><ellipse cx="665.1" cy="888" rx="9" ry="3.5" fill="url(#cy)"/><ellipse cx="665.1" cy="753.4" rx="9" ry="3.5" fill="#7fb6e8"/>
<rect x="678" y="745.3" width="18" height="142.7" fill="url(#cy)"/><ellipse cx="687" cy="888" rx="9" ry="3.5" fill="url(#cy)"/><ellipse cx="687" cy="745.3" rx="9" ry="3.5" fill="#7fb6e8"/>
<rect x="699.9" y="741.9" width="18" height="146.1" fill="url(#cy)"/><ellipse cx="708.9" cy="888" rx="9" ry="3.5" fill="url(#cy)"/><ellipse cx="708.9" cy="741.9" rx="9" ry="3.5" fill="#7fb6e8"/>
</g>

<!-- value labels black -->
<g>
<text class="vb" transform="translate(34.5,867) rotate(-90)">$12,556</text>
<text class="vb" transform="translate(56.4,865) rotate(-90)">$12,925</text>
<text class="vb" transform="translate(78.3,863) rotate(-90)">$13,291</text>
<text class="vb" transform="translate(100.2,860) rotate(-90)">$21,446</text>
<text class="vb" transform="translate(122.1,851) rotate(-90)">$43,995</text>
<text class="vb" transform="translate(144,838) rotate(-90)">$84,367</text>
<text class="vb" transform="translate(165.9,836) rotate(-90)">$74,175</text>
<text class="vb" transform="translate(187.8,827) rotate(-90)">$101,014</text>
<text class="vb" transform="translate(209.7,818) rotate(-90)">$110,577</text>
<text class="vb" transform="translate(231.6,815) rotate(-90)">$124,203</text>
<text class="vb" transform="translate(253.5,811) rotate(-90)">$133,441</text>
<text class="vb" transform="translate(275.4,807) rotate(-90)">$150,258</text>
<text class="vb" transform="translate(297.3,803) rotate(-90)">$165,541</text>
<text class="vb" transform="translate(319.2,801) rotate(-90)">$179,610</text>
<text class="vb" transform="translate(341.1,797) rotate(-90)">$193,934</text>
</g>
<!-- value labels white -->
<g>
<text class="vw" transform="translate(363,846.9) rotate(-90)">$250,915</text>
<text class="vw" transform="translate(384.9,831.4) rotate(-90)">$338,824</text>
<text class="vw" transform="translate(406.8,832.4) rotate(-90)">$332,905</text>
<text class="vw" transform="translate(428.7,834.6) rotate(-90)">$320,413</text>
<text class="vw" transform="translate(450.6,833.1) rotate(-90)">$328,858</text>
<text class="vw" transform="translate(472.5,833.3) rotate(-90)">$327,795</text>
<text class="vw" transform="translate(494.4,831.3) rotate(-90)">$339,266</text>
<text class="vw" transform="translate(516.3,829.6) rotate(-90)">$349,256</text>
<text class="vw" transform="translate(538.2,826.4) rotate(-90)">$367,055</text>
<text class="vw" transform="translate(560.1,825.5) rotate(-90)">$372,408</text>
<text class="vw" transform="translate(582,825.4) rotate(-90)">$372,765</text>
<text class="vw" transform="translate(603.9,825.1) rotate(-90)">$374,400</text>
<text class="vw" transform="translate(625.8,826) rotate(-90)">$369,607</text>
<text class="vw" transform="translate(647.7,825.2) rotate(-90)">$374,188</text>
<text class="vw" transform="translate(669.6,823.7) rotate(-90)">$382,501</text>
<text class="vw" transform="translate(691.5,819.7) rotate(-90)">$405,393</text>
<text class="vw" transform="translate(713.4,818) rotate(-90)">$415,088</text>
</g>

<!-- years -->
<g>
<text class="yl" transform="translate(34.5,919) rotate(-90)">1962</text>
<text class="yl" transform="translate(56.4,919) rotate(-90)">1963</text>
<text class="yl" transform="translate(78.3,919) rotate(-90)">1965</text>
<text class="yl" transform="translate(100.2,919) rotate(-90)">1970</text>
<text class="yl" transform="translate(122.1,919) rotate(-90)">1975</text>
<text class="yl" transform="translate(144,919) rotate(-90)">1980</text>
<text class="yl" transform="translate(165.9,919) rotate(-90)">1985</text>
<text class="yl" transform="translate(187.8,919) rotate(-90)">1990</text>
<text class="yl" transform="translate(209.7,919) rotate(-90)">1995</text>
<text class="yl" transform="translate(231.6,919) rotate(-90)">2000</text>
<text class="yl" transform="translate(253.5,919) rotate(-90)">2001</text>
<text class="yl" transform="translate(275.4,919) rotate(-90)">2002</text>
<text class="yl" transform="translate(297.3,919) rotate(-90)">2003</text>
<text class="yl" transform="translate(319.2,919) rotate(-90)">2004</text>
<text class="yl" transform="translate(341.1,919) rotate(-90)">2005</text>
<text class="yl" transform="translate(363,919) rotate(-90)">2006</text>
<text class="yl" transform="translate(384.9,919) rotate(-90)">2007</text>
<text class="yl" transform="translate(406.8,919) rotate(-90)">2008</text>
<text class="yl" transform="translate(428.7,919) rotate(-90)">2009</text>
<text class="yl" transform="translate(450.6,919) rotate(-90)">2010</text>
<text class="yl" transform="translate(472.5,919) rotate(-90)">2011</text>
<text class="yl" transform="translate(494.4,919) rotate(-90)">2012</text>
<text class="yl" transform="translate(516.3,919) rotate(-90)">2013</text>
<text class="yl" transform="translate(538.2,919) rotate(-90)">2014</text>
<text class="yl" transform="translate(560.1,919) rotate(-90)">2015</text>
<text class="yl" transform="translate(582,919) rotate(-90)">2016</text>
<text class="yl" transform="translate(603.9,919) rotate(-90)">2017</text>
<text class="yl" transform="translate(625.8,919) rotate(-90)">2018</text>
<text class="yl" transform="translate(647.7,919) rotate(-90)">2019</text>
<text class="yl" transform="translate(669.6,919) rotate(-90)">2020</text>
<text class="yl" transform="translate(691.5,919) rotate(-90)">2021</text>
<text class="yl" transform="translate(713.4,919) rotate(-90)">2022</text>
</g>

<!-- footer -->
<line x1="27" y1="941" x2="718" y2="941" stroke="#111" stroke-width="1"/>
<text x="29" y="948" font-size="6.3" fill="#111" textLength="678" lengthAdjust="spacingAndGlyphs">Although this report is created based on Edmonton Real Estate Board (EREB), the data and any related materials contained therein are provided “as is”, without warranty of any kind, either expressed or implied.  This report is</text>
<text x="29" y="956.5" font-size="6.3" fill="#111" textLength="676" lengthAdjust="spacingAndGlyphs">not intended to solicit properties already under contract.  The entire risk of use of the data shall be with the user.  This report is developed by Realty Almanac, © 2016 all rights reserved. Email us: Stats@RealtyAlmanac.com</text>
</svg>
</body></html>
